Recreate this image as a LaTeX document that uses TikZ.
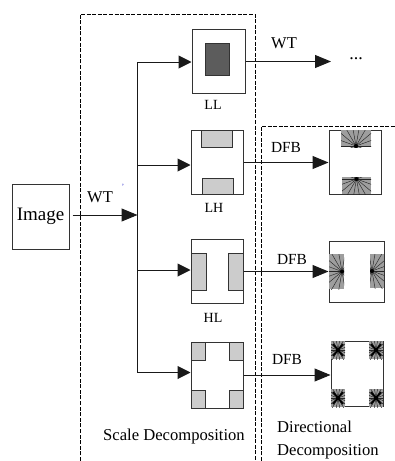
\documentclass[tikz,border=0pt]{standalone}
\usepackage{fontspec}
\setmainfont{Liberation Serif}
\usetikzlibrary{arrows.meta,positioning,calc}
\definecolor{bandgray}{gray}{0.8}
\definecolor{lowgray}{gray}{0.36}
\definecolor{inkgray}{gray}{0.2}
\tikzset{
  blockbox/.style={draw=inkgray, line width=1pt, minimum width=52pt, minimum height=64pt, inner sep=0pt},
  subband/.style={draw=inkgray, line width=1pt, fill=bandgray},
  fanray/.style={line width=0.45pt, black!85},
  stagebox/.style={draw=black, line width=0.9pt, dash pattern=on 4pt off 1.6pt},
  flowarrow/.style={-{Triangle[length=16pt,width=13pt]}, line width=1pt, black!90},
  lessonlabel/.style={font=\fontsize{15.4}{17}\selectfont, inner sep=0pt}
}
% gray block with rays leaving one point: x1,y1,x2,y2,focus x,focus y,step
\newcommand{\fanblock}[7]{
  \fill[black!38] (#1,#2) rectangle (#3,#4);
  \begin{scope}
    \clip (#1,#2) rectangle (#3,#4);
    \foreach \a in {0,#7,...,359} \draw[fanray] (#5,#6) -- ++(\a:40);
    \fill[black] (#5,#6) circle (2pt);
  \end{scope}
}
\newcommand{\crossblock}[4]{
  \fanblock{#1}{#2}{#3}{#4}{#1/2+#3/2}{#2/2+#4/2}{20}
  \draw[line width=1.8pt, black] (#1+2,#2+3) -- (#3-2,#4-3) (#1+2,#4-3) -- (#3-2,#2+3);
}

\begin{document}
\begin{tikzpicture}[x=1pt,y=-1pt]
    \useasboundingbox (0,0) rectangle (395,461);
    % the two stages
    \draw[stagebox] (80,461) -- (80,14) -- (255,14) -- (255,461);
    \draw[stagebox] (261,461) -- (261,126) -- (395,126);

    \node[blockbox, minimum width=57pt, minimum height=65pt, font=\fontsize{19}{21}\selectfont] (image) at (40.5,216.5) {Image};

    % scale side
    \node[blockbox, minimum width=53pt] (ll) at (218.5,61.5) {};
    \node[blockbox] (lh) at (217,162.5) {};
    \node[blockbox] (hl) at (217,271.5) {};
    \node[blockbox, minimum height=66pt] (hh) at (217,375) {};
    \draw[draw=inkgray, line width=1pt, fill=lowgray] (205,43.5) rectangle (229.5,75.5);
    \draw[subband] (201.5,130.5) rectangle (232,147);
    \draw[subband] (202.5,178) rectangle (233,194.5);
    \draw[subband] (191,253) rectangle (206,290);
    \draw[subband] (228,253) rectangle (243,290);
    \draw[subband] (191,342) rectangle (205,360);
    \draw[subband] (229,342) rectangle (243,360);
    \draw[subband] (191,390) rectangle (205,408);
    \draw[subband] (229,390) rectangle (243,408);

    % directional side
    \node[blockbox] (lhdir) at (355,162.5) {};
    \node[blockbox, minimum width=55pt, minimum height=61pt] (hldir) at (356.5,271.5) {};
    \node[blockbox, minimum height=65pt] (hhdir) at (357,373.5) {};
    \fanblock{341}{130}{371}{147}{356}{146}{20}
    \fanblock{342}{177}{371}{194}{356.5}{179}{20}
    \fanblock{329}{254}{344}{289}{342}{271.5}{20}
    \fanblock{370}{254}{384}{288}{372}{271}{20}
    \crossblock{331}{341}{345}{359}
    \crossblock{369}{341}{383}{359}
    \crossblock{331}{389}{345}{407}
    \crossblock{369}{389}{383}{407}

    % connectors
    \coordinate (hub) at (137.5,215);
    \coordinate (trunktop) at (137.5,62);
    \coordinate (trunklh) at (137.5,165);
    \coordinate (trunkhl) at (137.5,270);
    \coordinate (trunkbottom) at (137.5,372.5);
    \coordinate (wtend) at (331,61.5);
    \draw[line width=1pt, black!90] (trunktop) -- (trunkbottom);
    \draw[flowarrow, shorten <=3pt] (image.east |- hub) -- (hub);
    \draw[flowarrow, -{Triangle[length=13pt,width=13pt]}] (trunktop) -- (trunktop -| ll.west);
    \draw[flowarrow, -{Triangle[length=13pt,width=13pt]}] (trunklh) -- (trunklh -| lh.west);
    \draw[flowarrow, -{Triangle[length=13pt,width=13pt]}] (trunkhl) -- (trunkhl -| hl.west);
    \draw[flowarrow, -{Triangle[length=13pt,width=13pt]}] (trunkbottom) -- (trunkbottom -| hh.west);
    \draw[flowarrow] (ll.east) -- (wtend);
    \draw[flowarrow] (lh.east) -- (lhdir.west);
    \draw[flowarrow] (hl.east) -- (hldir.west);
    \draw[flowarrow] (hh.east) -- (hh.east -| hhdir.west);

    % labels
    \node[lessonlabel, font=\fontsize{16.5}{18}\selectfont] (wtone) at (100,197) {WT};
    \node[lessonlabel, font=\fontsize{8}{9}\selectfont, text=blue!60!gray] (tick) at (123,187) {'};
    \node[lessonlabel, font=\fontsize{16.5}{18}\selectfont] (wttwo) at (284,43) {WT};
    \node[lessonlabel, font=\fontsize{18}{20}\selectfont] (dots) at (356,59) {...};
    \node[lessonlabel, font=\fontsize{14}{16}\selectfont] (lllabel) at (213,105) {LL};
    \node[lessonlabel, font=\fontsize{14}{16}\selectfont] (lhlabel) at (214,208) {LH};
    \node[lessonlabel, font=\fontsize{14}{16}\selectfont] (hllabel) at (213,318) {HL};
    \node[lessonlabel] (dfbone) at (286,147) {DFB};
    \node[lessonlabel] (dfbtwo) at (292,259) {DFB};
    \node[lessonlabel] (dfbthree) at (287,359) {DFB};
    \node[lessonlabel, font=\fontsize{16.6}{18}\selectfont] (scalelabel) at (174,437) {Scale Decomposition};
    \node[lessonlabel, font=\fontsize{16.6}{23}\selectfont, align=left, anchor=north west] (dirlabel) at (277,421) {Directional\\Decomposition};
  \end{tikzpicture}
\end{document}
